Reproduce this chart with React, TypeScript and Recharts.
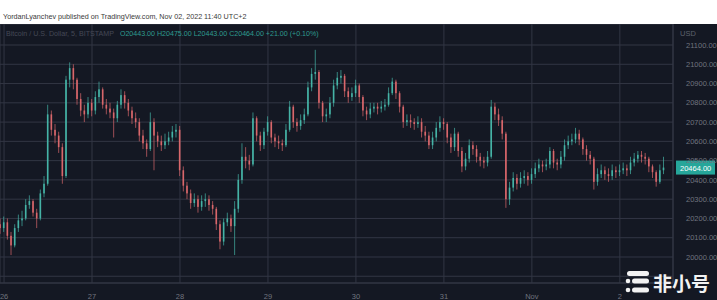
import { ComposedChart, Bar, XAxis, YAxis, CartesianGrid, ReferenceLine } from "recharts";

// hourly candles, first one starts at Oct 25 23:00 (hour -1)
const startHour = -1;
const firstOpen = 20170;

const closes = [
  20150, 20180, 20110, 20060, 20150, 20190, 20200, 20270, 20290, 20230, 20200, 20330, 20380, 20740,
  20660, 20630, 20570, 20420, 20920, 20980, 20920, 20820, 20760, 20740, 20800, 20760, 20830, 20870,
  20790, 20770, 20750, 20720, 20790, 20840, 20800, 20760, 20720, 20700, 20630, 20590, 20560, 20700,
  20630, 20600, 20580, 20600, 20620, 20650, 20660, 20450, 20370, 20330, 20280, 20300, 20260, 20290,
  20300, 20270, 20250, 20170, 20080, 20180, 20200, 20160, 20250, 20400, 20520, 20500, 20480, 20720,
  20630, 20580, 20650, 20700, 20620, 20600, 20590, 20580, 20660, 20780, 20700, 20680, 20710, 20740,
  20880, 20950, 20960, 20800, 20730, 20740, 20800, 20890, 20930, 20940, 20860, 20830, 20850, 20890,
  20830, 20760, 20740, 20770, 20780, 20770, 20780, 20790, 20850, 20910, 20850, 20780, 20700, 20710,
  20700, 20690, 20700, 20650, 20630, 20580, 20620, 20670, 20700, 20690, 20620, 20570, 20640, 20550,
  20470, 20510, 20580, 20560, 20520, 20500, 20490, 20520, 20780, 20740, 20710, 20640, 20300, 20360,
  20410, 20380, 20410, 20420, 20400, 20430, 20460, 20480, 20470, 20480, 20550, 20490, 20480, 20520,
  20580, 20600, 20610, 20640, 20610, 20560, 20530, 20510, 20390, 20430, 20450, 20430, 20420, 20450,
  20440, 20450, 20460, 20450, 20490, 20510, 20530, 20520, 20510, 20470, 20440, 20390, 20450, 20464,
];

const highs = [
  20200, 20210, 20200, 20130, 20170, 20220, 20240, 20300, 20320, 20300, 20250, 20350, 20420, 20790,
  20760, 20690, 20650, 20590, 20940, 21010, 21000, 20930, 20850, 20790, 20830, 20820, 20860, 20910,
  20880, 20820, 20800, 20770, 20810, 20870, 20860, 20820, 20780, 20750, 20720, 20660, 20610, 20750,
  20720, 20650, 20630, 20640, 20650, 20680, 20690, 20680, 20470, 20390, 20350, 20330, 20320, 20320,
  20330, 20320, 20290, 20260, 20190, 20200, 20230, 20220, 20290, 20430, 20590, 20570, 20530, 20750,
  20730, 20650, 20670, 20730, 20710, 20640, 20630, 20610, 20690, 20810, 20790, 20720, 20740, 20770,
  20910, 20980, 21075, 20970, 20810, 20770, 20830, 20920, 20960, 20970, 20950, 20880, 20880, 20920,
  20900, 20840, 20780, 20800, 20800, 20800, 20810, 20820, 20880, 20930, 20920, 20860, 20790, 20740,
  20740, 20720, 20730, 20720, 20680, 20650, 20650, 20700, 20730, 20720, 20700, 20640, 20670, 20650,
  20570, 20540, 20610, 20600, 20580, 20540, 20520, 20550, 20815, 20800, 20770, 20730, 20650, 20390,
  20440, 20430, 20440, 20450, 20440, 20460, 20490, 20510, 20500, 20510, 20570, 20560, 20510, 20550,
  20610, 20630, 20640, 20670, 20660, 20620, 20580, 20550, 20520, 20460, 20480, 20470, 20460, 20480,
  20470, 20480, 20490, 20480, 20520, 20540, 20550, 20550, 20540, 20520, 20480, 20450, 20480, 20520,
];

const lows = [
  20120, 20130, 20090, 20010, 20050, 20130, 20160, 20190, 20250, 20210, 20150, 20190, 20310, 20370,
  20630, 20590, 20540, 20380, 20410, 20880, 20870, 20790, 20730, 20700, 20720, 20730, 20740, 20800,
  20770, 20740, 20720, 20620, 20700, 20770, 20770, 20730, 20690, 20670, 20600, 20560, 20520, 20550,
  20450, 20570, 20550, 20560, 20580, 20600, 20620, 20420, 20340, 20300, 20250, 20260, 20230, 20240,
  20260, 20240, 20220, 20140, 20040, 20060, 20160, 20130, 20010, 20230, 20380, 20460, 20450, 20470,
  20600, 20550, 20560, 20630, 20590, 20570, 20560, 20550, 20570, 20650, 20670, 20650, 20660, 20690,
  20730, 20860, 20920, 20770, 20700, 20700, 20720, 20780, 20870, 20900, 20830, 20800, 20810, 20830,
  20800, 20730, 20710, 20720, 20750, 20740, 20750, 20760, 20780, 20840, 20820, 20750, 20670, 20680,
  20670, 20660, 20670, 20620, 20600, 20560, 20560, 20600, 20650, 20660, 20590, 20540, 20550, 20520,
  20440, 20450, 20490, 20530, 20490, 20470, 20460, 20470, 20510, 20710, 20680, 20610, 20255, 20270,
  20340, 20350, 20360, 20380, 20370, 20380, 20410, 20440, 20440, 20450, 20460, 20460, 20450, 20460,
  20500, 20560, 20580, 20590, 20580, 20530, 20500, 20480, 20350, 20370, 20410, 20400, 20390, 20400,
  20410, 20420, 20430, 20420, 20430, 20470, 20490, 20490, 20480, 20440, 20410, 20365, 20380, 20430,
];

const dayTicks = [0, 24, 48, 72, 96, 120, 144, 168];
const dayLabels = ["26", "27", "28", "29", "30", "31", "Nov", "2"];
const priceTicks = [19900, 20000, 20100, 20200, 20300, 20400, 20500, 20600, 20700, 20800, 20900, 21000, 21100];
const lastPrice = 20464;

const data = closes.map((c, i) => ({
  t: startHour + i,
  open: i === 0 ? firstOpen : closes[i - 1],
  close: c,
  high: highs[i],
  low: lows[i],
}));

const UP = "#45b3a6";
const DOWN = "#d9676b";

const Candle = (props: any) => {
  const { x, y, width, height, payload } = props;
  if (height == null || !payload) return null;
  const { open, close, high, low } = payload;
  const k = high === low ? 0 : height / (high - low);
  const cx = x + width / 2;
  const top = y + (high - Math.max(open, close)) * k;
  const bh = Math.max(1, Math.abs(open - close) * k);
  const color = close >= open ? UP : DOWN;
  return (
    <g>
      <line x1={cx} x2={cx} y1={y} y2={y + height} stroke={color} strokeWidth={0.7} />
      <rect x={cx - 0.8} y={top} width={1.6} height={bh} fill={color} />
    </g>
  );
};

const PriceTag = (props: any) => {
  const vb = props.viewBox;
  if (!vb) return null;
  const x0 = vb.x + vb.width;
  return (
    <g>
      <rect x={x0 + 3} y={vb.y - 7} width={39} height={14} fill="#26a69a" />
      <text x={x0 + 7} y={vb.y + 3} fontSize={7.5} fill="#ffffff" fontFamily="Liberation Sans, Arial">
        {lastPrice.toFixed(2)}
      </text>
    </g>
  );
};

const axisFont = { fontSize: 7.5, fill: "#70747f", fontFamily: "Liberation Sans, Arial" };

export default function App() {
  return (
    <div style={{ position: "absolute", left: 0, top: 0, width: 717, height: 300, background: "#fff", overflow: "hidden" }}>
      <div style={{ position: "absolute", left: 3, top: 12, fontSize: 7.2, fontFamily: "Liberation Sans, Arial", color: "#3a3a3a", whiteSpace: "nowrap" }}>
        YordanLyanchev published on TradingView.com, Nov 02, 2022 11:40 UTC+2
      </div>
      <div style={{ position: "absolute", left: 0, top: 24, width: 717, height: 276, background: "#141823" }}>
        <ComposedChart width={717} height={276} data={data} margin={{ top: 0, right: 0, bottom: 0, left: 0 }}>
          <CartesianGrid stroke="#323644" strokeWidth={1} />
          <XAxis
            type="number"
            dataKey="t"
            domain={[-1.1, 182.5]}
            allowDataOverflow
            ticks={dayTicks}
            tickFormatter={(v: number) => dayLabels[dayTicks.indexOf(v)] ?? ""}
            height={17}
            tickLine={false}
            axisLine={{ stroke: "#323644" }}
            tick={axisFont}
            tickMargin={5}
            interval={0}
          />
          <YAxis
            orientation="right"
            width={44}
            domain={[19865, 21209]}
            allowDataOverflow
            ticks={priceTicks}
            tickFormatter={(v: number) => (v < 20000 ? "" : v.toFixed(2))}
            tickLine={false}
            axisLine={{ stroke: "#323644" }}
            tick={{ ...axisFont, textAnchor: "start" }}
            tickMargin={7}
            interval={0}
          />
          <Bar dataKey={(d: any) => [d.low, d.high]} barSize={3} shape={Candle} isAnimationActive={false} />
          <ReferenceLine y={lastPrice} stroke="transparent" label={<PriceTag />} />
        </ComposedChart>
      </div>
      <svg width={717} height={300} style={{ position: "absolute", left: 0, top: 0, pointerEvents: "none" }}>
        <text x={6} y={36} fontSize={7.1} fontFamily="Liberation Sans, Arial">
          <tspan fill="#444856">Bitcoin / U.S. Dollar, 5, BITSTAMP</tspan>
          <tspan fill="#2e9c90" dx={6}>O20443.00 H20475.00 L20443.00 C20464.00 +21.00 (+0.10%)</tspan>
        </text>
        <text x={680} y={36} fontSize={7.5} fill="#5d616c" fontFamily="Liberation Sans, Arial">USD</text>
        <g fill="#f2f2f2">
          <rect x={627} y={271} width={22} height={5} rx={2.5} />
          <circle cx={628} cy={281} r={2.3} />
          <rect x={632} y={278.5} width={17} height={5} rx={2.5} />
          <circle cx={628} cy={290} r={2.3} />
          <rect x={632} y={287.5} width={17} height={5} rx={2.5} />
        </g>
        <text x={653} y={291} fontSize={19} fontWeight="bold" fill="#f2f2f2" fontFamily="Noto Sans CJK SC">非小号</text>
      </svg>
    </div>
  );
}
